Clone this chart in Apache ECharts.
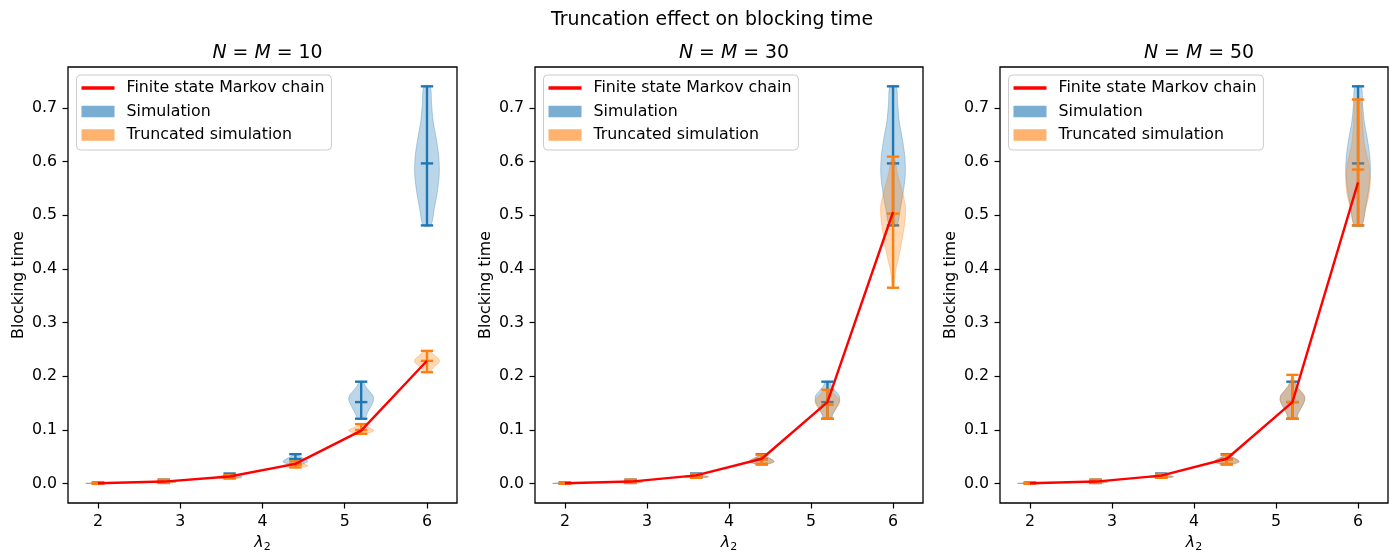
<!DOCTYPE html>
<html><head><meta charset="utf-8">
<script src="https://cdn.jsdelivr.net/npm/echarts@6/dist/echarts.min.js"></script>
<style>html,body{margin:0;padding:0;background:#fff}#c{width:1395px;height:554px}</style>
</head><body><div id="c"></div>
<script>
// ---------- data ----------
const lambdas = [2, 2.8, 3.6, 4.4, 5.2, 6];
const xTicks = [2, 3, 4, 5, 6];
const yTicks = [0, 0.1, 0.2, 0.3, 0.4, 0.5, 0.6, 0.7];
const panelSizes = ['10', '30', '50'];
const suptitle = 'Truncation effect on blocking time';
const legendNames = ['Finite state Markov chain', 'Simulation', 'Truncated simulation'];

const markov10 = [0.001, 0.004, 0.0135, 0.037, 0.099, 0.229];
const markov30 = [0.0008, 0.004, 0.0155, 0.0465, 0.152, 0.506];
const markov50 = [0.0008, 0.004, 0.015, 0.0465, 0.152, 0.561];

// simulation (same in every panel): min / median / max
const simMin = [0.0, 0.0015, 0.011, 0.036, 0.121, 0.481];
const simMedian = [0.0008, 0.004, 0.014, 0.046, 0.152, 0.5965];
const simMax = [0.0025, 0.0075, 0.019, 0.055, 0.190, 0.740];
// violin width profiles, sampled bottom (min) -> top (max)
const simShape = [
  [0.3, 0.7, 1.0, 0.8, 0.5, 0.3, 0.2, 0.1, 0.05],
  [0.4, 0.8, 1.0, 0.8, 0.5, 0.3, 0.2, 0.1, 0.05],
  [0.4, 0.8, 1.0, 0.9, 0.6, 0.4, 0.25, 0.15, 0.05],
  [0.4, 0.8, 1.0, 0.95, 0.8, 0.6, 0.4, 0.25, 0.1],
  [0.3, 0.45, 0.65, 0.85, 1.0, 0.95, 0.65, 0.35, 0.15],
  [0.3, 0.6, 0.85, 1.0, 0.95, 0.75, 0.5, 0.37, 0.25]
];

// truncated simulation, N = M = 10
const trunc10Min = [0.0, 0.0015, 0.0095, 0.0303, 0.093, 0.2077];
const trunc10Median = [0.0008, 0.004, 0.013, 0.036, 0.100, 0.2288];
const trunc10Max = [0.0025, 0.0075, 0.016, 0.0415, 0.111, 0.2474];
const trunc10Shape = [
  [0.3, 0.7, 1.0, 0.8, 0.5, 0.3, 0.2, 0.1, 0.05],
  [0.4, 0.8, 1.0, 0.8, 0.5, 0.3, 0.2, 0.1, 0.05],
  [0.4, 0.8, 1.0, 0.9, 0.6, 0.4, 0.25, 0.15, 0.05],
  [0.4, 0.8, 1.0, 0.95, 0.8, 0.6, 0.4, 0.25, 0.1],
  [0.3, 0.7, 0.95, 1.0, 0.85, 0.6, 0.4, 0.2, 0.1],
  [0.2, 0.4, 0.6, 0.85, 1.0, 0.95, 0.7, 0.45, 0.2]
];

// truncated simulation, N = M = 30
const trunc30Min = [0.0, 0.0015, 0.011, 0.037, 0.121, 0.365];
const trunc30Median = [0.0008, 0.004, 0.0145, 0.045, 0.147, 0.503];
const trunc30Max = [0.0025, 0.0075, 0.018, 0.054, 0.175, 0.609];
const trunc30Shape = [
  [0.3, 0.7, 1.0, 0.8, 0.5, 0.3, 0.2, 0.1, 0.05],
  [0.4, 0.8, 1.0, 0.8, 0.5, 0.3, 0.2, 0.1, 0.05],
  [0.4, 0.8, 1.0, 0.9, 0.6, 0.4, 0.25, 0.15, 0.05],
  [0.4, 0.8, 1.0, 0.95, 0.8, 0.6, 0.4, 0.25, 0.1],
  [0.2, 0.35, 0.55, 0.75, 0.95, 1.0, 0.8, 0.5, 0.2],
  [0.05, 0.2, 0.5, 0.75, 0.95, 1.0, 0.7, 0.35, 0.1]
];

// truncated simulation, N = M = 50
const trunc50Min = [0.0, 0.0015, 0.011, 0.037, 0.121, 0.481];
const trunc50Median = [0.0008, 0.004, 0.014, 0.045, 0.152, 0.585];
const trunc50Max = [0.0025, 0.0075, 0.018, 0.054, 0.2027, 0.7155];
const trunc50Shape = [
  [0.3, 0.7, 1.0, 0.8, 0.5, 0.3, 0.2, 0.1, 0.05],
  [0.4, 0.8, 1.0, 0.8, 0.5, 0.3, 0.2, 0.1, 0.05],
  [0.4, 0.8, 1.0, 0.9, 0.6, 0.4, 0.25, 0.15, 0.05],
  [0.4, 0.8, 1.0, 0.95, 0.8, 0.6, 0.4, 0.25, 0.1],
  [0.25, 0.45, 0.7, 0.95, 1.0, 0.7, 0.35, 0.15, 0.05],
  [0.3, 0.6, 0.9, 1.0, 0.85, 0.55, 0.4, 0.33, 0.25]
];

// ---------- layout / style ----------
const FONT = 'DejaVu Sans';
const FS = 15.8, TFS = 18.9;
const BLUE = '#1f77b4', ORANGE = '#ff7f0e';
const grids = [
  {left: 68, top: 67, width: 389, height: 436},
  {left: 535, top: 67, width: 388, height: 436},
  {left: 1000, top: 67, width: 388, height: 436}
];
const panels = [
  {markov: markov10, tMin: trunc10Min, tMed: trunc10Median, tMax: trunc10Max, tShape: trunc10Shape},
  {markov: markov30, tMin: trunc30Min, tMed: trunc30Median, tMax: trunc30Max, tShape: trunc30Shape},
  {markov: markov50, tMin: trunc50Min, tMed: trunc50Median, tMax: trunc50Max, tShape: trunc50Shape}
];
const VIOLIN_HALF = 0.15, CAP_HALF = 0.075;

function hexA(hex, a) {
  const n = parseInt(hex.slice(1), 16);
  return 'rgba(' + (n >> 16) + ',' + ((n >> 8) & 255) + ',' + (n & 255) + ',' + a + ')';
}

function violinRenderer(shapes, color) {
  return function (params, api) {
    const x = api.value(0), lo = api.value(1), med = api.value(2), hi = api.value(3);
    const prof = shapes[params.dataIndex];
    const n = prof.length;
    const right = [], left = [];
    for (let i = 0; i < n; i++) {
      const v = lo + (hi - lo) * i / (n - 1);
      right.push(api.coord([x + VIOLIN_HALF * prof[i], v]));
      left.unshift(api.coord([x - VIOLIN_HALF * prof[i], v]));
    }
    const pts = right.concat(left);
    const lineStyle = {stroke: color, lineWidth: 2.4};
    const cap = (v) => {
      const a = api.coord([x - CAP_HALF, v]), b = api.coord([x + CAP_HALF, v]);
      return {type: 'line', shape: {x1: a[0], y1: a[1], x2: b[0], y2: b[1]}, style: lineStyle};
    };
    const p0 = api.coord([x, lo]), p1 = api.coord([x, hi]);
    return {
      type: 'group',
      children: [
        {type: 'polygon', shape: {points: pts, smooth: 0.3}, style: {fill: hexA(color, 0.3), stroke: hexA(color, 0.3), lineWidth: 1}},
        {type: 'line', shape: {x1: p0[0], y1: p0[1], x2: p1[0], y2: p1[1]}, style: lineStyle},
        cap(lo), cap(med), cap(hi)
      ]
    };
  };
}

const xAxes = [], yAxes = [], series = [], titles = [], legends = [];
titles.push({text: suptitle, left: 707, top: 6, textAlign: 'center',
  textStyle: {fontFamily: FONT, fontSize: TFS, fontWeight: 'normal', color: '#000'}});

panels.forEach((p, i) => {
  const g = grids[i];
  xAxes.push({
    gridIndex: i, type: 'value', min: 1.635, max: 6.365,
    axisLine: {show: false, onZero: false},
    axisTick: {show: true, customValues: xTicks, length: 5.5, lineStyle: {color: '#000', width: 1.2}},
    axisLabel: {customValues: xTicks, margin: 11, fontSize: FS, fontFamily: FONT, color: '#000'},
    splitLine: {show: false},
    name: '{l|λ}{s|2}', nameLocation: 'middle', nameGap: 29,
    nameTextStyle: {fontFamily: FONT, color: '#000', rich: {
      l: {fontFamily: FONT, fontStyle: 'italic', fontSize: FS, color: '#000'},
      s: {fontFamily: FONT, fontSize: 11, color: '#000', padding: [8, 0, 0, 0]}
    }}
  });
  yAxes.push({
    gridIndex: i, type: 'value', min: -0.0359, max: 0.776,
    axisLine: {show: false, onZero: false},
    axisTick: {show: true, customValues: yTicks, length: 5.5, lineStyle: {color: '#000', width: 1.2}},
    axisLabel: {customValues: yTicks, margin: 11, fontSize: FS, fontFamily: FONT, color: '#000',
      formatter: v => v.toFixed(1)},
    splitLine: {show: false},
    name: 'Blocking time', nameLocation: 'middle', nameGap: 41, nameRotate: 90,
    nameTextStyle: {fontFamily: FONT, fontSize: FS, color: '#000'}
  });
  titles.push({
    text: '{i|N} = {i|M} = ' + panelSizes[i], left: g.left + g.width / 2, top: 39, textAlign: 'center',
    textStyle: {fontFamily: FONT, fontSize: TFS, fontWeight: 'normal', color: '#000',
      rich: {i: {fontFamily: FONT, fontStyle: 'italic', fontSize: TFS, color: '#000'}}}
  });
  legends.push({
    left: g.left + 8.5, top: 75, orient: 'vertical', selectedMode: false,
    padding: [5, 7, 7, 5], itemGap: 7.5, itemWidth: 33, itemHeight: 11.5,
    borderColor: '#cccccc', borderWidth: 1, borderRadius: 4, backgroundColor: 'rgba(255,255,255,0.8)',
    textStyle: {fontFamily: FONT, fontSize: FS, color: '#000', padding: [0, 0, 0, 7]},
    data: [
      {name: legendNames[0], icon: 'path://M0,0h33v3.3h-33z', itemStyle: {color: '#ff0000', borderWidth: 0}},
      {name: legendNames[1], icon: 'rect', itemStyle: {color: hexA(BLUE, 0.6), borderWidth: 0}},
      {name: legendNames[2], icon: 'rect', itemStyle: {color: hexA(ORANGE, 0.6), borderWidth: 0}}
    ]
  });
  series.push({
    type: 'custom', name: legendNames[1], xAxisIndex: i, yAxisIndex: i,
    itemStyle: {color: hexA(BLUE, 0.6)},
    encode: {x: 0, y: [1, 2, 3]},
    renderItem: violinRenderer(simShape, BLUE),
    data: lambdas.map((x, k) => [x, simMin[k], simMedian[k], simMax[k]])
  });
  series.push({
    type: 'custom', name: legendNames[2], xAxisIndex: i, yAxisIndex: i,
    itemStyle: {color: hexA(ORANGE, 0.6)},
    encode: {x: 0, y: [1, 2, 3]},
    renderItem: violinRenderer(p.tShape, ORANGE),
    data: lambdas.map((x, k) => [x, p.tMin[k], p.tMed[k], p.tMax[k]])
  });
  series.push({
    type: 'line', name: legendNames[0], xAxisIndex: i, yAxisIndex: i,
    showSymbol: false, symbol: 'none', z: 5,
    itemStyle: {color: '#ff0000'},
    lineStyle: {color: '#ff0000', width: 2.4},
    data: lambdas.map((x, k) => [x, p.markov[k]])
  });
});

const chart = echarts.init(document.getElementById('c'), null, {renderer: 'canvas'});
chart.setOption({
  animation: false,
  backgroundColor: '#fff',
  title: titles,
  legend: legends,
  grid: grids.map(g => Object.assign({show: true, borderColor: '#000', borderWidth: 1.3,
    backgroundColor: 'transparent', containLabel: false, outerBoundsMode: 'none'}, g)),
  xAxis: xAxes,
  yAxis: yAxes,
  series: series
});
</script>
</body></html>
